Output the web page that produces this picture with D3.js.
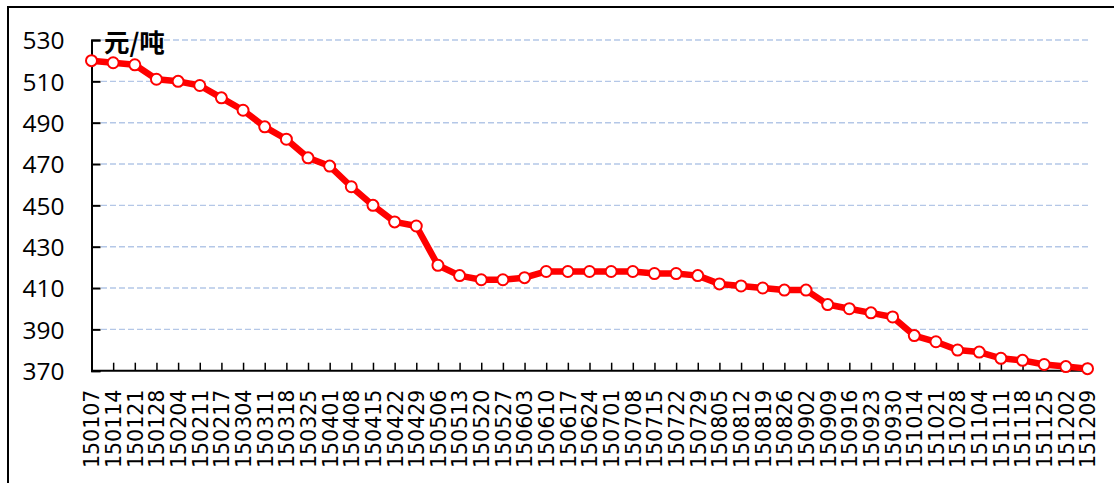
<!DOCTYPE html>
<html><head><meta charset="utf-8">
<script src="https://cdn.jsdelivr.net/npm/d3@7"></script>
<style>body{margin:0;background:#fff}svg{display:block}</style>
</head><body>
<svg id="c" width="1114" height="483"></svg>
<script>
const dates = ["150107","150114","150121","150128","150204","150211","150217","150304","150311","150318","150325","150401","150408","150415","150422","150429","150506","150513","150520","150527","150603","150610","150617","150624","150701","150708","150715","150722","150729","150805","150812","150819","150826","150902","150909","150916","150923","150930","151014","151021","151028","151104","151111","151118","151125","151202","151209"];
const prices = [520,519,518,511,510,508,502,496,488,482,473,469,459,450,442,440,421,416,414,414,415,418,418,418,418,418,417,417,416,412,411,410,409,409,402,400,398,396,387,384,380,379,376,375,373,372,371];
const yTicks = [370,390,410,430,450,470,490,510,530];
const unitLabel = "元/吨";

const svg = d3.select("#c");
// outer frame (top and left edges visible)
svg.append("path").attr("d","M8,483V7H1114").attr("fill","none").attr("stroke","#000").attr("stroke-width",2);

const x = d3.scalePoint().domain(dates).range([91.5,1087.5]);
const y = d3.scaleLinear().domain([370,530]).range([370.7,40]);

// gridlines
svg.append("g").selectAll("line").data(yTicks.filter(d=>d>370)).join("line")
  .attr("x1",101).attr("x2",1088).attr("y1",d=>y(d)).attr("y2",d=>y(d))
  .attr("stroke","#b4c7e7").attr("stroke-width",1.4).attr("stroke-dasharray","6,3");

// y axis
const ya = svg.append("g").attr("transform","translate(91.5,0)")
  .call(d3.axisLeft(y).tickValues(yTicks).tickSize(-9).tickPadding(27).tickFormat(d3.format("d")));
ya.select(".domain").attr("stroke","#000").attr("stroke-width",2);
ya.selectAll(".tick line").attr("stroke","#000").attr("stroke-width",2);
ya.selectAll(".tick text").attr("font-family","'Open Sans',sans-serif").attr("font-size",24.5).attr("fill","#000").attr("dy","0.36em");

// x axis
const xa = svg.append("g").attr("transform","translate(0,370.7)")
  .call(d3.axisBottom(x).tickSize(-8).tickSizeOuter(0).tickPadding(0));
xa.select(".domain").attr("stroke","#000").attr("stroke-width",2).attr("d","M91.5,0H1088");
xa.selectAll(".tick line").attr("stroke","#000").attr("stroke-width",1.5);
xa.selectAll(".tick text").attr("font-family","'DejaVu Sans',sans-serif").attr("font-size",20.5).attr("fill","#000")
  .attr("transform","translate(0,19) rotate(-90)").attr("text-anchor","end").attr("x",0).attr("y",0).attr("dy","0.36em");

// unit label
svg.append("text").attr("x",104).attr("y",52).text(unitLabel)
  .attr("font-family","'Noto Sans CJK SC',sans-serif").attr("font-size",25.5).attr("font-weight",700).attr("fill","#000");

// line
svg.append("path").datum(prices)
  .attr("d",d3.line().x((d,i)=>x(dates[i])).y(d=>y(d)))
  .attr("fill","none").attr("stroke","#ff0000").attr("stroke-width",6.5).attr("stroke-linejoin","round");

// markers
svg.append("g").selectAll("circle").data(prices).join("circle")
  .attr("cx",(d,i)=>x(dates[i])).attr("cy",d=>y(d)).attr("r",5.5)
  .attr("fill","#fff").attr("stroke","#ff0000").attr("stroke-width",2);
</script>
</body></html>
